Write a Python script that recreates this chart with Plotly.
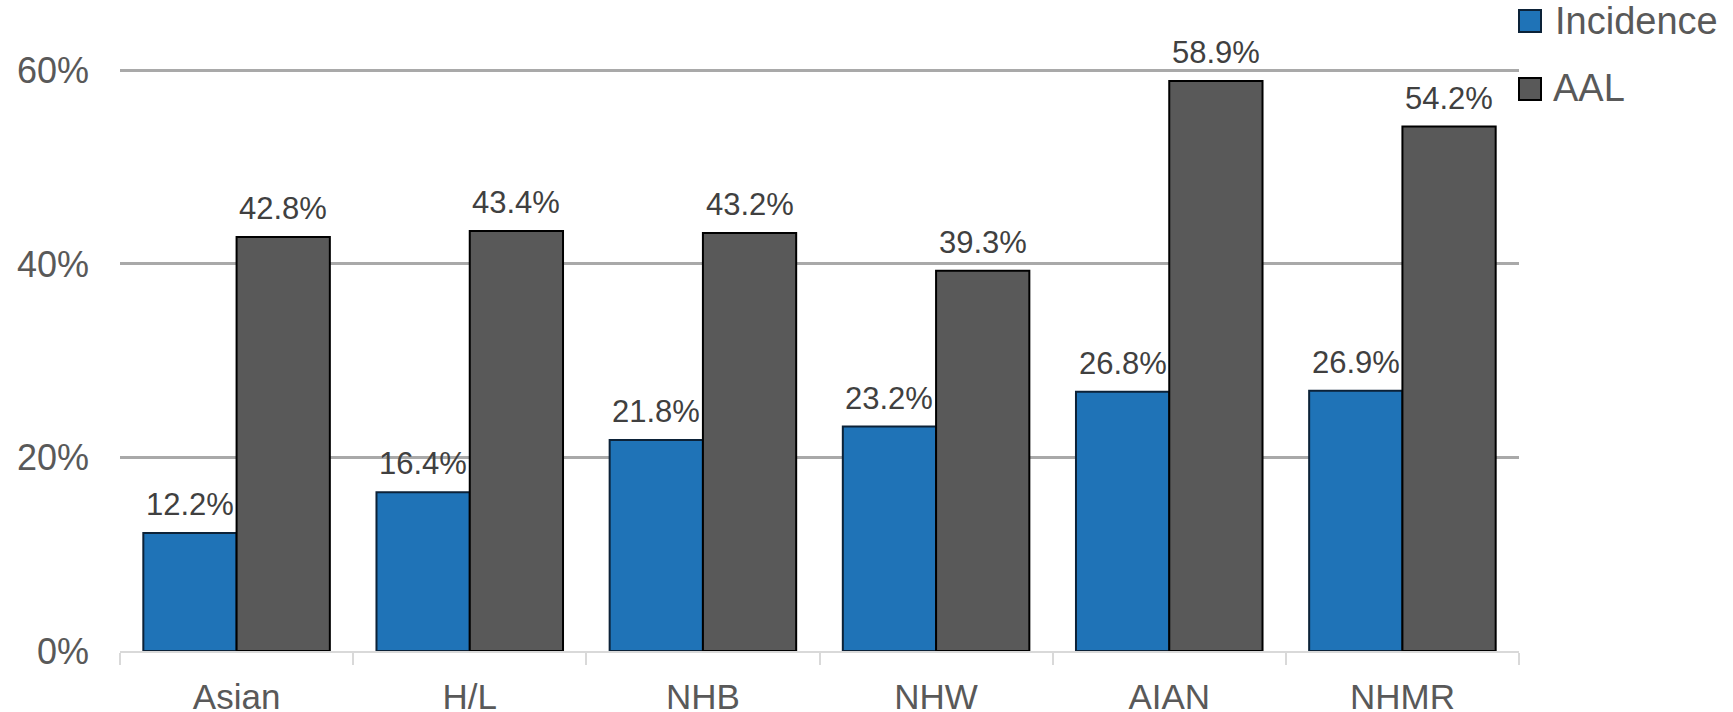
import plotly.graph_objects as go

# Share of each group, by race/ethnicity
categories = ["Asian", "H/L", "NHB", "NHW", "AIAN", "NHMR"]
incidence = [12.2, 16.4, 21.8, 23.2, 26.8, 26.9]
aal = [42.8, 43.4, 43.2, 39.3, 58.9, 54.2]
series_names = ["Incidence", "AAL"]
y_ticks = [0, 20, 40, 60]
y_tick_text = [f"{v}%" for v in y_ticks]

BLUE = "#1f73b7"
GREY = "#595959"
TEXT = "#595959"
LABEL = "#404040"
FONT = "Liberation Sans, Arial, Helvetica, sans-serif"

# Page and plot-area geometry in pixels
FIG_W, FIG_H = 1733, 712
M_L, M_R, M_T, M_B = 120, 214, 69, 61
PLOT_W = FIG_W - M_L - M_R
PLOT_H = FIG_H - M_T - M_B


def paper_x(px):
    return (px - M_L) / PLOT_W


def paper_y(py):
    return (FIG_H - M_B - py) / PLOT_H


fig = go.Figure()
fig.add_trace(go.Bar(
    x=categories, y=incidence, name=series_names[0],
    marker=dict(color=BLUE, line=dict(color="#0c2238", width=2)),
    showlegend=False,
))
fig.add_trace(go.Bar(
    x=categories, y=aal, name=series_names[1],
    marker=dict(color=GREY, line=dict(color="#000000", width=2)),
    showlegend=False,
))

annotations = []
# Value labels above each bar (two bars per category, each 0.4 wide)
for i, (a, b) in enumerate(zip(incidence, aal)):
    for xpos, v in ((i - 0.2, a), (i + 0.2, b)):
        annotations.append(dict(
            x=xpos, y=v, xref="x", yref="y", text=f"{v:.1f}%",
            showarrow=False, xanchor="center", yanchor="bottom", yshift=9,
            font=dict(family=FONT, size=31, color=LABEL),
        ))

# Legend drawn as swatches plus text
shapes = []
legend_items = [
    (series_names[0], BLUE, "#0c2238", 10, 32, 1553, 21),
    (series_names[1], GREY, "#000000", 78, 100, 1551, 88),
]
for name, fill, edge, y_top, y_bot, tx, ty in legend_items:
    shapes.append(dict(
        type="rect", xref="paper", yref="paper",
        x0=paper_x(1519), x1=paper_x(1541), y0=paper_y(y_bot), y1=paper_y(y_top),
        fillcolor=fill, line=dict(color=edge, width=2), layer="above",
    ))
    annotations.append(dict(
        x=paper_x(tx), y=paper_y(ty), xref="paper", yref="paper", text=name,
        showarrow=False, xanchor="left", yanchor="middle",
        font=dict(family=FONT, size=38, color=TEXT),
    ))

fig.update_layout(
    width=FIG_W, height=FIG_H,
    margin=dict(l=M_L, r=M_R, t=M_T, b=M_B, pad=0),
    paper_bgcolor="white", plot_bgcolor="white",
    barmode="group", bargap=0.2, bargroupgap=0,
    font=dict(family=FONT, color=TEXT),
    annotations=annotations, shapes=shapes,
    showlegend=False,
)
fig.update_xaxes(
    type="category", tickson="boundaries", ticks="outside", ticklen=12,
    tickwidth=2, tickcolor="#d9d9d9", showline=True, linecolor="#d9d9d9",
    linewidth=2, showgrid=False, automargin=False,
    tickfont=dict(family=FONT, size=35, color=TEXT), ticklabelstandoff=14,
)
fig.update_yaxes(
    range=[0, 60.15], tickvals=y_ticks, ticktext=y_tick_text, showgrid=True,
    gridcolor="#a9a9a9", gridwidth=2.5, zeroline=False, showline=False,
    ticks="", automargin=False,
    tickfont=dict(family=FONT, size=36, color=TEXT), ticklabelstandoff=30,
)
for trace in fig.data:
    trace.cliponaxis = False

fig.write_html("out.html")
